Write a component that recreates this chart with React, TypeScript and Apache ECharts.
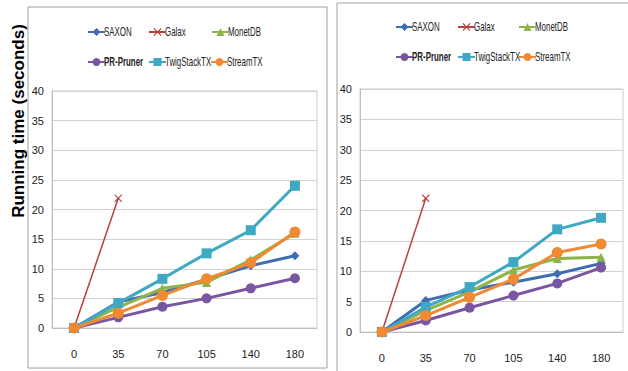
import React, { useEffect, useRef } from "react";
import * as echarts from "echarts";

const categories = ["0", "35", "70", "105", "140", "180"];
const seriesNames = ["SAXON", "Galax", "MonetDB", "PR-Pruner", "TwigStackTX", "StreamTX"];

// left panel
const leftSAXON = [0, 4.4, 6.0, 8.2, 10.5, 12.2];
const leftGalax = [0, 21.9, null, null, null, null];
const leftMonetDB = [0, 3.5, 6.7, 7.7, 11.5, 16.0];
const leftPRPruner = [0, 1.8, 3.6, 5.0, 6.7, 8.4];
const leftTwigStackTX = [0, 4.2, 8.3, 12.6, 16.5, 24.0];
const leftStreamTX = [0, 2.5, 5.5, 8.3, 11.0, 16.2];

// right panel
const rightSAXON = [0, 5.2, 6.9, 8.2, 9.6, 11.3];
const rightGalax = [0, 22.0, null, null, null, null];
const rightMonetDB = [0, 3.5, 6.6, 10.2, 12.1, 12.3];
const rightPRPruner = [0, 1.9, 4.0, 6.0, 8.0, 10.6];
const rightTwigStackTX = [0, 4.1, 7.4, 11.5, 16.9, 18.8];
const rightStreamTX = [0, 2.7, 5.7, 8.7, 13.1, 14.5];

const yTicks = [0, 5, 10, 15, 20, 25, 30, 35, 40];

const colors: Record<string, string> = {
  SAXON: "#3F6DB3",
  Galax: "#B7403D",
  MonetDB: "#8DB349",
  "PR-Pruner": "#7A56A0",
  TwigStackTX: "#3FA8C2",
  StreamTX: "#F08A32",
};
const xPath = "path://M0,1L1,0L5,4L9,0L10,1L6,5L10,9L9,10L5,6L1,10L0,9L4,5Z";
const symbols: Record<string, string> = {
  SAXON: "diamond",
  Galax: xPath,
  MonetDB: "triangle",
  "PR-Pruner": "circle",
  TwigStackTX: "rect",
  StreamTX: "circle",
};
const symbolSizes: Record<string, number> = {
  SAXON: 9,
  Galax: 8,
  MonetDB: 9,
  "PR-Pruner": 10,
  TwigStackTX: 10,
  StreamTX: 11,
};

const FONT = "'Liberation Sans', Arial, sans-serif";

export default function App() {
  const ref = useRef<HTMLDivElement>(null);
  useEffect(() => {
    if (!ref.current) return;
    const chart = echarts.init(ref.current, null, { renderer: "svg" });
    const leftData = [leftSAXON, leftGalax, leftMonetDB, leftPRPruner, leftTwigStackTX, leftStreamTX];
    const rightData = [rightSAXON, rightGalax, rightMonetDB, rightPRPruner, rightTwigStackTX, rightStreamTX];

    const mkSeries = (data: (number | null)[][], idx: number) =>
      seriesNames.map((name, i) => ({
        name,
        type: "line",
        xAxisIndex: idx,
        yAxisIndex: idx,
        data: data[i],
        symbol: symbols[name],
        symbolSize: symbolSizes[name],
        showSymbol: true,
        connectNulls: false,
        lineStyle: { color: colors[name], width: name === "Galax" ? 1.5 : 3 },
        itemStyle: { color: colors[name] },
      }));

    const mkX = (gridIndex: number) => ({
      type: "category",
      gridIndex,
      data: categories,
      boundaryGap: true,
      axisLine: { show: true, lineStyle: { color: "#BFBFBF" } },
      axisTick: { show: false },
      axisLabel: { color: "#222", fontSize: 11, fontFamily: FONT, margin: 20 },
    });
    const mkY = (gridIndex: number) => ({
      type: "value",
      gridIndex,
      min: 0,
      max: 40,
      interval: 5,
      axisLine: { show: true, lineStyle: { color: "#BFBFBF" } },
      axisTick: { show: false },
      splitLine: { lineStyle: { color: "#D0D0D0" } },
      axisLabel: {
        color: "#222",
        fontSize: 11,
        fontFamily: FONT,
        margin: 8,
        formatter: (v: number) => (yTicks.includes(v) ? String(v) : ""),
      },
    });

    const legendPos = [
      // left panel
      { name: "SAXON", left: 87, top: 32 },
      { name: "Galax", left: 148, top: 32 },
      { name: "MonetDB", left: 211, top: 32 },
      { name: "PR-Pruner", left: 87, top: 62 },
      { name: "TwigStackTX", left: 148, top: 62 },
      { name: "StreamTX", left: 210, top: 62 },
      // right panel
      { name: "SAXON", left: 395, top: 27 },
      { name: "Galax", left: 457, top: 27 },
      { name: "MonetDB", left: 518, top: 27 },
      { name: "PR-Pruner", left: 395, top: 57 },
      { name: "TwigStackTX", left: 457, top: 57 },
      { name: "StreamTX", left: 518, top: 57 },
    ];
    const ICON_W = 17;

    chart.setOption({
      animation: false,
      backgroundColor: "#ffffff",
      textStyle: { fontFamily: FONT },
      legend: legendPos.map((l) => ({
        data: [l.name],
        left: l.left,
        top: l.top - 5,
        padding: 0,
        itemWidth: ICON_W,
        itemHeight: 10,
        itemGap: 0,
        selectedMode: false,
        formatter: () => "",
        textStyle: { fontSize: 1, padding: 0 },
      })),
      grid: [
        { left: 52, top: 91, width: 265, height: 237, show: true, borderColor: "#CFC8DD", borderWidth: 1, backgroundColor: "transparent" },
        { left: 360, top: 89, width: 263, height: 243, show: true, borderColor: "#CFC8DD", borderWidth: 1, backgroundColor: "transparent" },
      ],
      xAxis: [mkX(0), mkX(1)],
      yAxis: [mkY(0), mkY(1)],
      series: [...mkSeries(leftData, 0), ...mkSeries(rightData, 1)],
      graphic: [
        {
          type: "rect",
          shape: { x: 28, y: 7, width: 299, height: 361 },
          style: { fill: "none", stroke: "#A0A0A0", lineWidth: 1 },
          z: -1,
        },
        {
          type: "rect",
          shape: { x: 337, y: 3, width: 300, height: 380 },
          style: { fill: "none", stroke: "#A0A0A0", lineWidth: 1 },
          z: -1,
        },
        {
          type: "text",
          x: 18,
          y: 121,
          rotation: Math.PI / 2,
          style: {
            text: "Running time (seconds)",
            font: "bold 17px 'Liberation Sans', Arial, sans-serif",
            fill: "#000",
            align: "center",
            verticalAlign: "middle",
          },
        },
        ...legendPos.map((l) => ({
          type: "text",
          x: l.left + ICON_W,
          y: l.top,
          scaleX: 0.66,
          style: {
            text: l.name,
            font: `${l.name === "PR-Pruner" ? "bold " : ""}12px 'Liberation Sans', Arial, sans-serif`,
            fill: "#222",
            align: "left",
            verticalAlign: "middle",
          },
        })),
      ],
    });
    return () => chart.dispose();
  }, []);
  return <div ref={ref} style={{ position: "fixed", left: 0, top: 0, width: 628, height: 371 }} />;
}
